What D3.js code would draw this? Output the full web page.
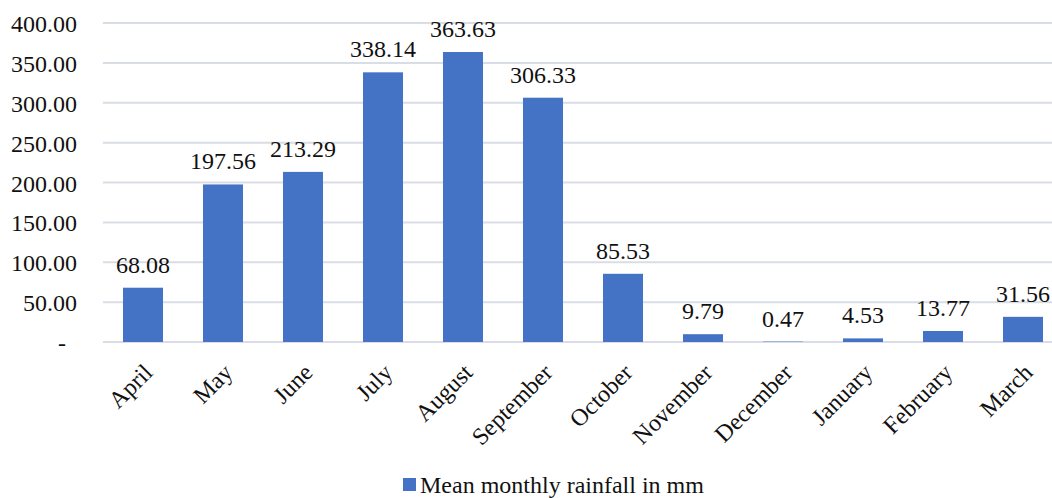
<!DOCTYPE html>
<html>
<head>
<meta charset="utf-8">
<script src="https://cdn.jsdelivr.net/npm/d3@7"></script>
<style>
  html, body { margin: 0; padding: 0; background: #fff; }
  svg text { font-family: "Liberation Serif", "Tinos", "Times New Roman", "DejaVu Serif", serif; }
</style>
</head>
<body>
<svg id="chart" width="1052" height="498"></svg>
<script>
// Mean monthly rainfall (mm), April through March
const months = ["April", "May", "June", "July", "August", "September",
                "October", "November", "December", "January", "February", "March"];
const rainfall = [68.08, 197.56, 213.29, 338.14, 363.63, 306.33,
                  85.53, 9.79, 0.47, 4.53, 13.77, 31.56];
const yTicks = [0, 50, 100, 150, 200, 250, 300, 350, 400];
const seriesName = "Mean monthly rainfall in mm";

const svg = d3.select("#chart");
const plotLeft = 103, plotRight = 1063, plotTop = 23, plotBottom = 342;
const barColor = "#4472C4";
const fontSize = 24;
const serif = "'Liberation Serif', Tinos, 'Times New Roman', 'DejaVu Serif', serif";

const x = d3.scaleBand().domain(months).range([plotLeft, plotRight]).paddingInner(0.5).paddingOuter(0.25);
const y = d3.scaleLinear().domain([0, 400]).range([plotBottom, plotTop]);

// Horizontal gridlines
svg.append("g")
  .selectAll("line")
  .data(yTicks)
  .join("line")
  .attr("x1", plotLeft).attr("x2", plotRight)
  .attr("y1", d => y(d)).attr("y2", d => y(d))
  .attr("stroke", "#d9dde5")
  .attr("stroke-width", 2);

// Y axis labels (accounting style: zero shown as a dash)
const fmt = d3.format(".2f");
svg.append("g")
  .selectAll("text")
  .data(yTicks)
  .join("text")
  .attr("x", d => d === 0 ? 66 : 77)
  .attr("y", d => y(d))
  .attr("dy", "0.38em")
  .attr("text-anchor", "end")
  .attr("font-family", serif)
  .attr("font-size", fontSize)
  .attr("fill", "#111")
  .text(d => d === 0 ? "-" : fmt(d));

// Bars
svg.append("g")
  .selectAll("rect")
  .data(months)
  .join("rect")
  .attr("x", (d) => x(d))
  .attr("width", x.bandwidth())
  .attr("y", (d, i) => y(rainfall[i]))
  .attr("height", (d, i) => y(0) - y(rainfall[i]))
  .attr("fill", barColor);

// Value labels above the bars
svg.append("g")
  .selectAll("text")
  .data(months)
  .join("text")
  .attr("x", d => x(d) + x.bandwidth() / 2)
  .attr("y", (d, i) => y(rainfall[i]) - 15)
  .attr("text-anchor", "middle")
  .attr("font-family", serif)
  .attr("font-size", fontSize)
  .attr("fill", "#111")
  .text((d, i) => fmt(rainfall[i]));

// Rotated month labels
svg.append("g")
  .selectAll("text")
  .data(months)
  .join("text")
  .attr("transform", d => `translate(${x(d) + x.bandwidth() / 2 + 11},${plotBottom + 32}) rotate(-45)`)
  .attr("text-anchor", "end")
  .attr("font-family", serif)
  .attr("font-size", fontSize)
  .attr("fill", "#111")
  .text(d => d);

// Legend
const legend = svg.append("g").attr("transform", "translate(403,478)");
legend.append("rect").attr("width", 13).attr("height", 13).attr("fill", barColor);
legend.append("text")
  .attr("x", 17).attr("y", 15)
  .attr("font-family", serif)
  .attr("font-size", fontSize)
  .attr("fill", "#111")
  .text(seriesName);
</script>
</body>
</html>
